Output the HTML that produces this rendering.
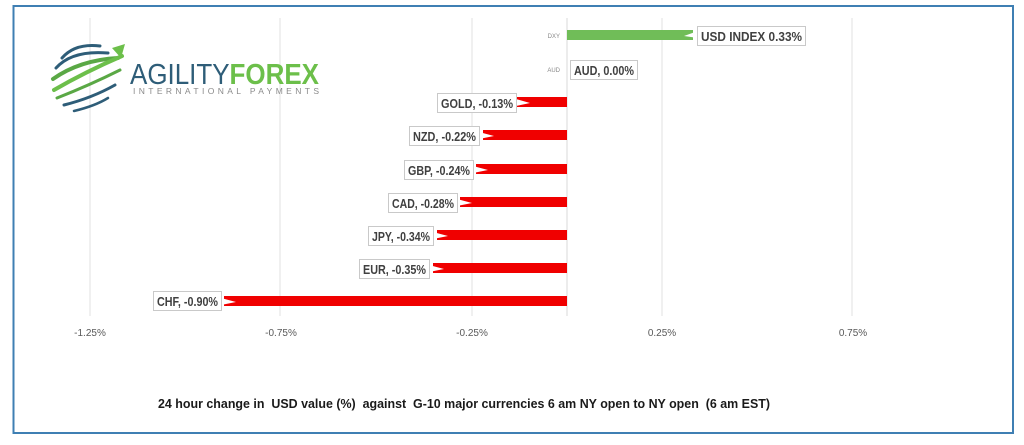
<!DOCTYPE html>
<html><head><meta charset="utf-8"><style>
html,body{margin:0;padding:0;background:#fff;}
svg{display:block;font-family:"Liberation Sans",Arial,sans-serif;}
</style></head><body>
<svg width="1024" height="445" viewBox="0 0 1024 445" xmlns="http://www.w3.org/2000/svg">
<rect x="0" y="0" width="1024" height="445" fill="#fff"/>
<rect x="13.5" y="6" width="999.5" height="427" fill="none" stroke="#3f7fb3" stroke-width="2"/>
<g stroke="#e2e2e2" stroke-width="1">
<line x1="90" y1="18" x2="90" y2="316"/>
<line x1="280" y1="18" x2="280" y2="316"/>
<line x1="472" y1="18" x2="472" y2="316"/>
<line x1="662" y1="18" x2="662" y2="316"/>
<line x1="852" y1="18" x2="852" y2="316"/>
</g>
<line x1="567" y1="18" x2="567" y2="316" stroke="#d8d8d8"/>
<g fill="none" stroke-linecap="round">
<path d="M62 58 Q75 43 100 46" stroke="#2e5d78" stroke-width="3"/>
<path d="M56 68 Q72 50 108 53" stroke="#2e5d78" stroke-width="3"/>
<path d="M53 79 Q80 60 118 58" stroke="#5aa845" stroke-width="4"/>
<path d="M54 90 Q85 72 122 56" stroke="#6cbf4a" stroke-width="4"/>
<path d="M57 98 Q90 85 120 70" stroke="#5aa845" stroke-width="3"/>
<path d="M64 105 Q92 98 115 85" stroke="#2e5d78" stroke-width="3"/>
<path d="M74 111 Q95 106 108 98" stroke="#2e5d78" stroke-width="2.5"/>
</g>
<polygon points="112,48 125,44 121,58" fill="#6cbf4a"/>
<text x="130" y="84" font-size="29" fill="#2e5d78" textLength="189" lengthAdjust="spacingAndGlyphs">AGILITY<tspan fill="#6cbf4a" font-weight="bold">FOREX</tspan></text>
<text x="133" y="94" font-size="8.5" fill="#8a8a8a" textLength="186" lengthAdjust="spacing">INTERNATIONAL PAYMENTS</text>
<text x="560" y="38" font-size="6" fill="#888" text-anchor="end">DXY</text>
<text x="560" y="72" font-size="6" fill="#888" text-anchor="end">AUD</text>
<rect x="567" y="30" width="126" height="10" fill="#70bd58"/>
<g fill="#f00000">
<rect x="517" y="97" width="50" height="10"/>
<rect x="483" y="130" width="84" height="10"/>
<rect x="476" y="164" width="91" height="10"/>
<rect x="460" y="197" width="107" height="10"/>
<rect x="437" y="230" width="130" height="10"/>
<rect x="433" y="263" width="134" height="10"/>
<rect x="224" y="296" width="343" height="10"/>
</g>
<g fill="#fff">
<polygon points="516,99 516,106 530,103"/>
<polygon points="479,132 479,139 494,136"/>
<polygon points="473,166 473,173 488,170"/>
<polygon points="457,199 457,206 472,203"/>
<polygon points="433,232 433,239 448,236"/>
<polygon points="429,265 429,272 444,269"/>
<polygon points="221,298 221,305 236,302"/>
<polygon points="698,31 698,38 684,36"/>
</g>
<g fill="#fff" stroke="#c9c9c9" stroke-width="1">
<rect x="697.5" y="26.5" width="108" height="19"/>
<rect x="570.5" y="60.5" width="67" height="19"/>
<rect x="437.5" y="93.5" width="79" height="19"/>
<rect x="409.5" y="126.5" width="70" height="19"/>
<rect x="404.5" y="160.5" width="69" height="19"/>
<rect x="388.5" y="193.5" width="69" height="19"/>
<rect x="368.5" y="226.5" width="65" height="19"/>
<rect x="359.5" y="259.5" width="70" height="19"/>
<rect x="153.5" y="291.5" width="68" height="19"/>
</g>
<g font-size="13" font-weight="bold" fill="#404040" lengthAdjust="spacingAndGlyphs">
<text x="701" y="41" textLength="101" lengthAdjust="spacingAndGlyphs">USD INDEX 0.33%</text>
<text x="574" y="75" textLength="60" lengthAdjust="spacingAndGlyphs">AUD, 0.00%</text>
<text x="441" y="108" textLength="72" lengthAdjust="spacingAndGlyphs">GOLD, -0.13%</text>
<text x="413" y="141" textLength="63" lengthAdjust="spacingAndGlyphs">NZD, -0.22%</text>
<text x="408" y="175" textLength="62" lengthAdjust="spacingAndGlyphs">GBP, -0.24%</text>
<text x="392" y="208" textLength="62" lengthAdjust="spacingAndGlyphs">CAD, -0.28%</text>
<text x="372" y="241" textLength="58" lengthAdjust="spacingAndGlyphs">JPY, -0.34%</text>
<text x="363" y="274" textLength="63" lengthAdjust="spacingAndGlyphs">EUR, -0.35%</text>
<text x="157" y="306" textLength="61" lengthAdjust="spacingAndGlyphs">CHF, -0.90%</text>
</g>
<g font-size="10" fill="#595959" text-anchor="middle">
<text x="90" y="336">-1.25%</text>
<text x="281" y="336">-0.75%</text>
<text x="472" y="336">-0.25%</text>
<text x="662" y="336">0.25%</text>
<text x="853" y="336">0.75%</text>
</g>
<text x="158" y="408" font-size="12.5" font-weight="bold" fill="#1a1a1a" xml:space="preserve" textLength="612" lengthAdjust="spacingAndGlyphs">24 hour change in  USD value (%)  against  G-10 major currencies 6 am NY open to NY open  (6 am EST)</text>
</svg>
</body></html>
